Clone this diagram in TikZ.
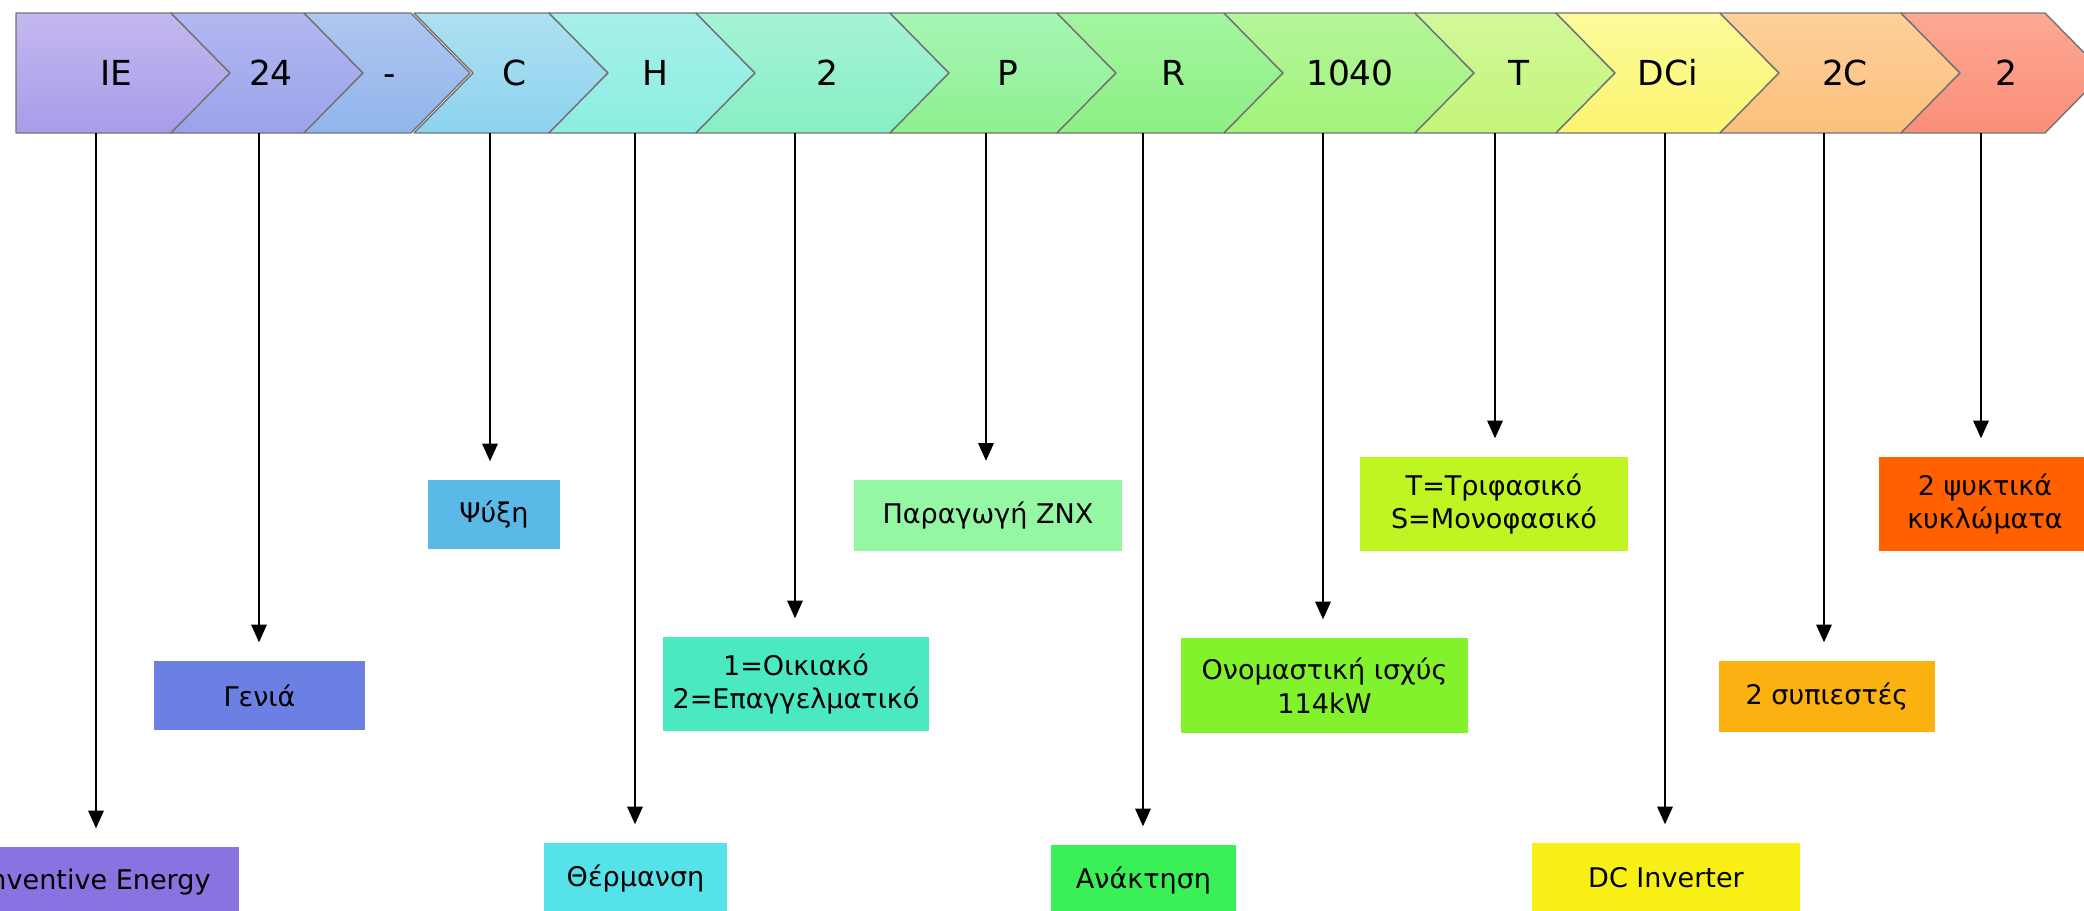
\documentclass[tikz,border=0pt]{standalone}
\usepackage{fontspec}
\setmainfont{DejaVu Sans}
\usetikzlibrary{arrows.meta}

\begin{document}
\begin{tikzpicture}[x=0.1mm, y=-0.1mm, line join=round, >={Triangle[length=5pt,width=4.4pt]},
    chev/.style={draw=black!55, line width=0.4pt},
    tag/.style={inner sep=0pt, text height=0.73em, text depth=0pt, font=\fontsize{9.8}{11}\selectfont},
    box/.style={inner sep=0pt, align=center, font=\fontsize{7.7}{9.5}\selectfont},
    conn/.style={->, line width=0.4pt, shorten >=1.8mm}]
    \useasboundingbox (0,0) rectangle (2084,911);
    % code bar
    \foreach \i/\xl/\xr/\nd/\xt/\lab/\ct/\cb in {
        1/16/171/0/116/IE/C4B8F0/A99BE8,
        2/171/304/59/271/24/B3B8F0/9AA2EA,
        3/304/411/59/390/-/AFC6F0/91B5EC,
        4/414/549/59/515/C/AEE0F2/8DD3EE,
        5/549/696/59/655/H/A6F0EA/8CEDE0,
        6/696/890/59/827/2/A6F3D6/86EFC3,
        7/890/1057/59/1008/P/A6F5B5/8EF08E,
        8/1057/1224/59/1173/R/A3F5A0/8CF083,
        9/1224/1415/59/1350/1040/B5F59A/A2F37A,
        10/1415/1556/59/1519/T/D2F89A/C3F57A,
        11/1556/1720/59/1668/DCi/FBFB9A/FBF570,
        12/1720/1901/59/1845/2C/FDD09A/FCC07C,
        13/1901/2045/59/2006/2/FCA895/FB8E78}
    {
        \definecolor{ctop}{HTML}{\ct}
        \definecolor{cbot}{HTML}{\cb}
        \path[chev, top color=ctop, bottom color=cbot]
            (\xl,13) -- (\xr,13) -- ({\xr+59},73) -- (\xr,133) -- (\xl,133) -- ({\xl+\nd},73) -- cycle;
        \node[tag] (c\i) at (\xt,73) {\lab};
    }
    % meaning boxes and arrows
    \foreach \i/\xs/\xb/\yb/\w/\h/\fc/\lab in {
        1/96/96/882/28.6/7.0/8A72E0/Inventive Energy,
        2/259/259.5/695.5/21.1/6.9/6B80E2/Γενιά,
        3/490/494/514.5/13.2/6.9/5BB9E7/Ψύξη,
        4/635/635.5/878/18.3/7.0/55E3E9/Θέρμανση,
        5/795/796/684/26.6/9.4/4BE9C1/{1=Οικιακό\\2=Επαγγελματικό},
        6/986/988/515/26.8/7.1/95F7A4/Παραγωγή ΖΝΧ,
        7/1143/1143.5/880/18.5/7.0/3BEF57/Ανάκτηση,
        8/1323/1324.5/685.5/28.7/9.5/81F22B/{Ονομαστική ισχύς\\114kW},
        9/1495/1494/504/26.8/9.4/BEF522/{T=Τριφασικό\\S=Μονοφασικό},
        10/1665/1666/878/26.8/7.0/F8F015/DC Inverter,
        11/1824/1827/696.5/21.6/7.1/FBB10F/2 συπιεστές,
        12/1981/1985/504/21.2/9.4/FF6100/{2 ψυκτικά\\κυκλώματα}}
    {
        \definecolor{bfill}{HTML}{\fc}
        \node[box, fill=bfill, minimum width=\w mm, minimum height=\h mm] (b\i) at (\xb,\yb) {\lab};
        \coordinate (s\i) at (\xs,133);
        \draw[conn] (s\i) -- (s\i |- b\i.north);
    }
\end{tikzpicture}
\end{document}
